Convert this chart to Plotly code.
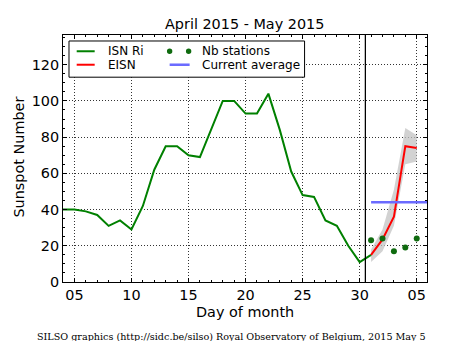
import plotly.graph_objects as go

# ---------------- data ----------------
isn_days = list(range(4, 32))
isn_vals = [40, 40, 39, 37, 31, 34, 29, 42, 62, 75, 75, 70, 69, 85, 100, 100,
            93, 93, 104, 84, 61, 48, 47, 34, 31, 20, 11, 15]

eisn_days = [31, 32, 33, 34, 35]
eisn_vals = [15, 23.5, 36, 75, 74]
eisn_low = [11, 17, 31, 65, 66.5]
eisn_high = [18, 29, 51, 85, 81]

nb_days = [31, 32, 33, 34, 35]
nb_vals = [23, 24, 17, 19, 24]

avg_days = [31, 35.9]
avg_vals = [44, 44]

month_split = 30.5
x_range = [4, 35.9]
y_range = [0, 136.4]
x_tickvals = [5, 10, 15, 20, 25, 30, 35]
x_ticktext = ["05", "10", "15", "20", "25", "30", "05"]
y_tickvals = [0, 20, 40, 60, 80, 100, 120]

# ---------------- layout geometry (pixels) ----------------
W, H = 450, 341
L, R, T, B = 63.3, 427.5, 34.7, 282.3
pw, ph = R - L, B - T


def px(x):
    return (x - L) / pw


def py(y):
    return (B - y) / ph


GREEN = "#008000"
RED = "#ff0000"
BLUE = "#6b6bff"
FONT = "DejaVu Sans"

fig = go.Figure()

# uncertainty band
fig.add_trace(go.Scatter(
    x=eisn_days + eisn_days[::-1], y=eisn_high + eisn_low[::-1],
    fill="toself", fillcolor="rgba(195,195,195,0.75)", line=dict(width=0),
    mode="lines", hoverinfo="skip", showlegend=False, name="EISN range"))

fig.add_trace(go.Scatter(x=isn_days, y=isn_vals, mode="lines", name="ISN Ri",
                         line=dict(color=GREEN, width=2), showlegend=False))
fig.add_trace(go.Scatter(x=eisn_days, y=eisn_vals, mode="lines", name="EISN",
                         line=dict(color=RED, width=2), showlegend=False))
fig.add_trace(go.Scatter(x=nb_days, y=nb_vals, mode="markers", name="Nb stations",
                         marker=dict(color="#0f6b0f", size=6), showlegend=False))
fig.add_trace(go.Scatter(x=avg_days, y=avg_vals, mode="lines", name="Current average",
                         line=dict(color=BLUE, width=2.5), showlegend=False))

shapes = []
# month separator
shapes.append(dict(type="line", xref="x", yref="paper", x0=month_split, x1=month_split,
                   y0=0, y1=1, line=dict(color="black", width=1.3)))

# manual legend
shapes.append(dict(type="rect", xref="paper", yref="paper",
                   x0=px(69.3), x1=px(305), y0=py(77), y1=py(40.7),
                   line=dict(color="black", width=1), fillcolor="white"))
shapes.append(dict(type="line", xref="paper", yref="paper", x0=px(77), x1=px(95),
                   y0=py(51), y1=py(51), line=dict(color=GREEN, width=2)))
shapes.append(dict(type="line", xref="paper", yref="paper", x0=px(77), x1=px(95),
                   y0=py(64.5), y1=py(64.5), line=dict(color=RED, width=2)))
shapes.append(dict(type="line", xref="paper", yref="paper", x0=px(170), x1=px(190),
                   y0=py(64.5), y1=py(64.5), line=dict(color=BLUE, width=2.5)))
for cx in (170, 189):
    shapes.append(dict(type="circle", xref="paper", yref="paper",
                       x0=px(cx - 2.7), x1=px(cx + 2.7), y0=py(51 + 2.7), y1=py(51 - 2.7),
                       line=dict(width=0), fillcolor="#0f6b0f"))

annotations = []


def txt(text, x, y, size, xanchor="left", font=FONT, angle=0, color="black"):
    annotations.append(dict(text=text, xref="paper", yref="paper", x=px(x), y=py(y),
                            xanchor=xanchor, yanchor="middle", showarrow=False,
                            textangle=angle,
                            font=dict(family=font, size=size, color=color)))


txt("ISN Ri", 106, 51, 12)
txt("EISN", 106, 64.5, 12)
txt("Nb stations", 200, 51, 12)
txt("Current average", 200, 64.5, 12)
txt("April 2015 - May 2015", 245.3, 23.3, 14.4, xanchor="center")
txt("Day of month", 245.5, 312.7, 14.4, xanchor="center")
txt("Sunspot Number", 18.3, 157.5, 14.4, xanchor="center", angle=-90)
txt("SILSO graphics (http://sidc.be/silso) Royal Observatory of Belgium, 2015 May 5",
    231.7, 337.0, 9.6, xanchor="center", font="DejaVu Serif")

axis_common = dict(showline=True, linecolor="black", linewidth=1, mirror="allticks",
                   ticks="inside", ticklen=4, tickcolor="black", tickwidth=1,
                   showgrid=True, gridcolor="rgba(0,0,0,0.8)", griddash="1px,2px", gridwidth=1,
                   zeroline=False, tickfont=dict(family=FONT, size=14.4, color="black"))

fig.update_layout(
    width=W, height=H,
    margin=dict(l=L, r=W - R, t=T, b=H - B, pad=0),
    paper_bgcolor="white", plot_bgcolor="white",
    xaxis=dict(range=x_range, tickmode="array", tickvals=x_tickvals, ticktext=x_ticktext,
               minor=dict(dtick=1, tick0=0, ticks="inside", ticklen=2, tickcolor="black",
                          showgrid=False),
               **axis_common),
    yaxis=dict(range=y_range, tickmode="array", tickvals=y_tickvals,
               minor=dict(dtick=5, tick0=0, ticks="inside", ticklen=2, tickcolor="black",
                          showgrid=False),
               **axis_common),
    shapes=shapes, annotations=annotations, showlegend=False,
)

fig.write_html("out.html")
